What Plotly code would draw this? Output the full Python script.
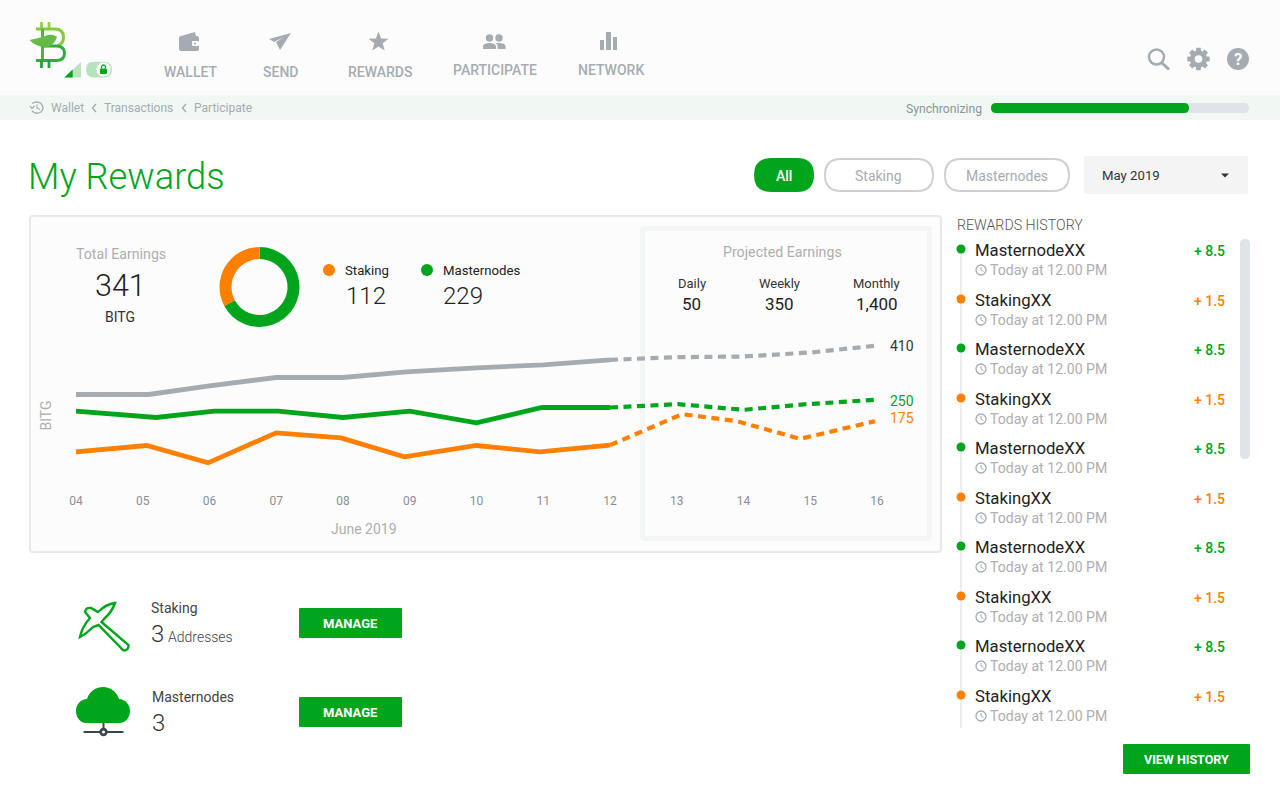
import math
import re

import plotly.graph_objects as go

W, H = 1280, 800
GREEN = "#00a51c"
ORANGE = "#ff7f00"
GRAY = "#a5acb1"
FONT = "Roboto"

# line chart values
gray_days = [4, 5.09, 6, 7, 8, 8.95, 10, 11, 12]
gray_vals = [260, 260, 286, 311, 311, 328, 340, 349, 364]
gray_proj_days = [12, 13, 14, 15, 15.97]
gray_proj_vals = [364, 372, 374, 386, 406]

green_days = [4, 5.2, 6.07, 7.03, 8, 9, 10, 10.98, 12]
green_vals = [210, 191, 210, 210, 191, 210, 175, 221, 221]
green_proj_days = [12, 13.02, 14, 14.95, 15.97]
green_proj_vals = [221, 231, 214, 231, 244]

orange_days = [4, 5.06, 5.98, 7, 7.97, 8.92, 10, 10.95, 12]
orange_vals = [88, 107, 55, 145, 130, 73, 107, 88, 108]
orange_proj_days = [12, 13.08, 13.9, 14.85, 15.97]
orange_proj_vals = [108, 201, 180, 127, 180]

tick_days = [4, 5, 6, 7, 8, 9, 10, 11, 12, 13, 14, 15, 16]
tick_labels = ["04", "05", "06", "07", "08", "09", "10", "11", "12", "13", "14", "15", "16"]

donut_labels = ["Masternodes", "Staking"]
donut_vals = [229, 112]

history_names = ["MasternodeXX", "StakingXX"] * 5
history_amounts = ["+ 8.5", "+ 1.5"] * 5
history_colors = [GREEN, ORANGE] * 5
history_y = [250, 300, 349, 399, 448, 498, 547, 597, 646, 696]

nav_labels = ["WALLET", "SEND", "REWARDS", "PARTICIPATE", "NETWORK"]
nav_x = [190, 280, 379.5, 494.5, 610.5]
nav_y = [72, 72, 72, 70, 70]

shapes = []
notes = []


def px(x):
    return x / W


def py(y):
    return 1 - y / H


# pixel path -> paper path
def pth(d):
    toks = re.findall(r"[MLQCZ]|-?\d+\.?\d*", d)
    out, i = [], 0
    for t in toks:
        if t in "MLQCZ":
            out.append(t)
        else:
            out.append(f"{px(float(t)):.5f}" if i % 2 == 0 else f"{py(float(t)):.5f}")
            i += 1
    return " ".join(out)


def path(d, fill=None, line=None, lw=0, layer="below"):
    shapes.append(dict(type="path", xref="paper", yref="paper", path=pth(d), layer=layer,
                       fillcolor=fill or "rgba(0,0,0,0)",
                       line=dict(color=line or "rgba(0,0,0,0)", width=lw)))


def rrect(x0, y0, x1, y1, r=0, fill=None, line=None, lw=0, layer="below"):
    d = (f"M {x0 + r} {y0} L {x1 - r} {y0} Q {x1} {y0} {x1} {y0 + r} L {x1} {y1 - r} "
         f"Q {x1} {y1} {x1 - r} {y1} L {x0 + r} {y1} Q {x0} {y1} {x0} {y1 - r} "
         f"L {x0} {y0 + r} Q {x0} {y0} {x0 + r} {y0} Z")
    path(d, fill, line, lw, layer)


def circle(cx, cy, r, fill=None, line=None, lw=0, layer="below"):
    shapes.append(dict(type="circle", xref="paper", yref="paper", layer=layer,
                       x0=px(cx - r), x1=px(cx + r), y0=py(cy + r), y1=py(cy - r),
                       fillcolor=fill or "rgba(0,0,0,0)",
                       line=dict(color=line or "rgba(0,0,0,0)", width=lw)))


def txt(x, y, s, size=14, color="#333333", anchor="left", weight=400, angle=0):
    notes.append(dict(xref="paper", yref="paper", x=px(x), y=py(y), text=s, showarrow=False,
                      xanchor=anchor, yanchor="middle", textangle=angle, borderpad=0,
                      font=dict(family=FONT, size=size, color=color, weight=weight)))


# page bands
rrect(0, 0, 1280, 95, fill="#fcfcfc")
rrect(0, 95, 1280, 120, fill="#f1f7f2")

# logo
path("M 41.5 22 L 41.5 29 M 49 22 L 49 29", line="#9ccf3f", lw=2.8)
path("M 36 29 L 55 29 Q 63.5 29 63.5 37 Q 63.5 44 57 46", line="#86c83f", lw=3)
path("M 42.5 29 L 42.5 60", line="#4cb345", lw=3)
path("M 42.5 46 L 56 46 Q 64.5 46 64.5 53 Q 64.5 60.5 56 60.5 L 36 60.5", line="#2fae3f", lw=3)
path("M 41.5 60 L 41.5 68 M 49 60 L 49 68", line="#19a83b", lw=2.8)
path("M 29.5 40 Q 40 38 45 36 Q 52 33 57 37 Q 54 46 46 47.5 Q 36 47 29.5 40 Z", fill="#66bb46")
path("M 64.3 77.5 L 81 61.7 L 81 77.5 Z", fill="#b9e4bd")
path("M 64.3 77.5 L 72.7 69.5 L 72.7 77.5 Z", fill=GREEN)
rrect(86, 61.7, 112, 77.5, 7.9, fill="#b5e3bb")
circle(103.5, 69.5, 7.5, fill="#ffffff", line="#b5e3bb", lw=0.8)
rrect(100, 68.5, 107, 74, 1, fill=GREEN)
path("M 101.5 68.5 L 101.5 66.5 Q 103.5 63.5 105.5 66.5 L 105.5 68.5", line=GREEN, lw=1.3)

# nav icons
rrect(179, 36, 199, 51, 2, fill=GRAY)
path("M 181 36 L 195 32 L 196 36 Z", fill=GRAY)
rrect(192, 41, 199, 46, 1, fill="#fcfcfc")
circle(195, 43.5, 1, fill=GRAY)
path("M 269 39 L 291 33 L 280 50 L 276 42 L 284 37 L 274 42 Z", fill=GRAY)
star = []
for i in range(10):
    r = 10.5 if i % 2 == 0 else 4.4
    a = -math.pi / 2 + i * math.pi / 5
    star.append(f"{378.5 + r * math.cos(a):.2f} {42 + r * math.sin(a):.2f}")
path("M " + " L ".join(star) + " Z", fill=GRAY)
circle(489.5, 38, 3.7, fill=GRAY)
circle(499, 38, 3.7, fill=GRAY)
path("M 483 49 L 483 46 Q 484 43 489.5 43 Q 495 43 496 46 L 496 49 Z", fill=GRAY)
path("M 497.5 49 L 497.5 45 L 495.5 43.3 Q 497 43 499 43 Q 505 43 505.5 46 L 505.5 49 Z", fill=GRAY)
rrect(600, 40, 604, 50, fill=GRAY)
rrect(606, 32, 611, 50, fill=GRAY)
rrect(613, 37, 617, 50, fill=GRAY)
for lab, x, y in zip(nav_labels, nav_x, nav_y):
    txt(x, y, lab, 14, GRAY, "center", 500)

# right icons
circle(1156.5, 57, 7.5, line=GRAY, lw=2.5)
path("M 1162 63 L 1169 69.5", line=GRAY, lw=3)
gear = []
for i in range(8):
    a = i * math.pi / 4
    for da, r in [(-0.3, 8.6), (-0.2, 11.4), (0.2, 11.4), (0.3, 8.6)]:
        gear.append(f"{1198.5 + r * math.cos(a + da):.2f} {59 + r * math.sin(a + da):.2f}")
path("M " + " L ".join(gear) + " Z", fill=GRAY)
circle(1198.5, 59, 3.8, fill="#fcfcfc")
circle(1238, 59, 11, fill=GRAY)
txt(1238, 59.5, "?", 17, "#fcfcfc", "center", 700)

# breadcrumb and sync bar
path("M 32 103.5 Q 37 100.5 41 103.5 Q 45 108 41 112 Q 36 115 32 111", line=GRAY, lw=1.3)
path("M 30 106 L 32 108.5 L 34.5 106", line=GRAY, lw=1.2)
path("M 37 104.5 L 37 108 L 40 109.5", line=GRAY, lw=1.1)
txt(50, 107.5, "Wallet", 12, GRAY)
path("M 96 104 L 92.5 108 L 96 112", line=GRAY, lw=1.4)
txt(103, 107.5, "Transactions", 12, GRAY)
path("M 186 104 L 182.5 108 L 186 112", line=GRAY, lw=1.4)
txt(193, 107.5, "Participate", 12, GRAY)
txt(983, 108.5, "Synchronizing", 12.2, "#8d9499", "right")
rrect(991, 103, 1249, 113, 5, fill="#e0e4e8")
rrect(991, 103, 1189, 113, 5, fill=GREEN)

# title row
txt(26.5, 177, "My Rewards", 36.3, GREEN, weight=300)
rrect(754, 158, 814, 192, 17, fill=GREEN)
txt(783.5, 176, "All", 14, "#ffffff", "center", 500)
rrect(825, 159, 933, 191, 16, fill="#ffffff", line="#cfcfcf", lw=2)
txt(878.5, 176, "Staking", 14, GRAY, "center")
rrect(945, 159, 1069, 191, 16, fill="#ffffff", line="#cfcfcf", lw=2)
txt(1006.5, 176, "Masternodes", 14, GRAY, "center")
rrect(1084, 156, 1248, 194, 2, fill="#f4f4f4")
txt(1100.5, 175.5, "May 2019", 13.2, "#333333")
path("M 1221 173.5 L 1229 173.5 L 1225 177.5 Z", fill="#333333")

# chart card
rrect(30, 216, 941, 552, 3, fill="#fcfcfc", line="#e8e8e8", lw=2)
rrect(642.5, 228.5, 929.5, 538.5, 2, fill="#fcfcfc", line="#f4f6f6", lw=5)
txt(120.5, 254, "Total Earnings", 14.2, "#aeaeae", "center")
txt(120, 285.5, "341", 30.5, "#222222", "center", 300)
txt(120, 317, "BITG", 14, "#333333", "center")
circle(329, 270, 6, fill=ORANGE)
txt(343.5, 270, "Staking", 13.2, "#222222")
circle(427, 270, 6, fill=GREEN)
txt(441.5, 270, "Masternodes", 13.2, "#222222")
txt(344.5, 296, "112", 24, "#222222", weight=300)
txt(441.5, 296, "229", 24, "#222222", weight=300)
txt(782.5, 252, "Projected Earnings", 14.2, "#aeaeae", "center")
for x, a, b in zip([691.5, 779.5, 876.5], ["Daily", "Weekly", "Monthly"], ["50", "350", "1,400"]):
    txt(x, 283.5, a, 13, "#333333", "center")
    txt(x, 304, b, 17, "#222222", "center")
txt(889, 346, "410", 14, "#333333")
txt(889, 401, "250", 14, GREEN)
txt(889, 418, "175", 14, ORANGE)
txt(45, 415.5, "BITG", 14, "#b0b0b0", "center", angle=-90)
txt(363.5, 529, "June 2019", 14, "#aeaeae", "center")

# staking row
path("M 80 637 Q 82 627 90 618 L 85 612 Q 86 607 91 608 L 98 612 Q 106 604 115 603 "
     "Q 112 612 104 619 L 101.5 622 L 128.5 645 Q 129 649 125 650.5 Q 123 651 121 648 "
     "L 98.5 625 L 93 627 Q 86 634 80 637 Z", line=GREEN, lw=2.4)
txt(149.5, 608, "Staking", 14, "#444444")
txt(149.5, 634, "3", 24, "#333333", weight=300)
txt(167, 637, "Addresses", 14, "#444444", weight=300)
rrect(299, 608, 402, 638, 1, fill=GREEN)
txt(350.5, 623, "MANAGE", 13, "#ffffff", "center", 700)

# masternode row
path("M 86 723 C 80 723 76 717 76 711 C 76 704 81 699 87 699 C 89 692 95 687 103 687 "
     "C 111 687 117 692 119 699 C 125 699 130 704 130 711 C 130 718 125 723 120 723 Z", fill=GREEN)
path("M 103.5 723 L 103.5 732 M 83.5 732 L 123.5 732", line="#3b4650", lw=2)
circle(103.5, 732, 4.2, fill="#3b4650")
circle(103.5, 732, 1.5, fill="#ffffff")
txt(150.5, 697, "Masternodes", 14, "#444444")
txt(150.5, 723, "3", 24, "#333333", weight=300)
rrect(299, 697, 402, 727, 1, fill=GREEN)
txt(350.5, 712, "MANAGE", 13, "#ffffff", "center", 700)

# history list
txt(956, 225, "REWARDS HISTORY", 14.2, "#555555", weight=300)
path("M 961 250 L 961 728", line="#e6e8ea", lw=1.5)
rrect(1240, 239, 1250, 459, 5, fill="#e0e4e8")
for name, amount, col, y in zip(history_names, history_amounts, history_colors, history_y):
    circle(961, y - 1, 4.5, fill=col)
    txt(973.5, y, name, 16.7, "#222222")
    txt(1225.5, y + 1, amount, 14, col, "right", 500)
    circle(981, y + 20, 5, line="#a5acb1", lw=1.3)
    path(f"M 981 {y + 17} L 981 {y + 20} L 983.5 {y + 21.5}", line="#a5acb1", lw=1)
    txt(988.5, y + 20, "Today at 12.00 PM", 14.1, "#aeaeae")
rrect(1123, 744, 1250, 774, 1, fill=GREEN)
txt(1186.5, 759.5, "VIEW HISTORY", 12.5, "#ffffff", "center", 700)

fig = go.Figure()
for days, vals, color in [(gray_days, gray_vals, GRAY), (green_days, green_vals, GREEN),
                          (orange_days, orange_vals, ORANGE)]:
    fig.add_trace(go.Scatter(x=days, y=vals, mode="lines", line=dict(color=color, width=4.8),
                             showlegend=False, hoverinfo="skip"))
for days, vals, color in [(gray_proj_days, gray_proj_vals, GRAY), (green_proj_days, green_proj_vals, GREEN),
                          (orange_proj_days, orange_proj_vals, ORANGE)]:
    fig.add_trace(go.Scatter(x=days, y=vals, mode="lines",
                             line=dict(color=color, width=4.2, dash="8px,5.5px"),
                             showlegend=False, hoverinfo="skip"))

fig.add_trace(go.Pie(labels=donut_labels, values=donut_vals, hole=0.7, sort=False, direction="clockwise",
                     rotation=0, textinfo="none", showlegend=False, hoverinfo="skip",
                     marker=dict(colors=[GREEN, ORANGE], line=dict(width=0)),
                     domain=dict(x=[px(219.5), px(299.5)], y=[py(327), py(247)])))

fig.update_layout(
    width=W, height=H, margin=dict(l=0, r=0, t=0, b=0),
    paper_bgcolor="#ffffff", plot_bgcolor="rgba(0,0,0,0)",
    font=dict(family=FONT), shapes=shapes, annotations=notes,
    xaxis=dict(domain=[px(40), px(930)], range=[3.461, 16.794], tickvals=tick_days, ticktext=tick_labels,
               showgrid=False, zeroline=False, showline=False, ticks="outside", ticklen=11,
               tickcolor="rgba(0,0,0,0)", tickfont=dict(family=FONT, size=12, color="#8a8f92")),
    yaxis=dict(domain=[py(479), py(329)], range=[6.5, 456.5], visible=False),
)

fig.write_html("out.html", config=dict(displayModeBar=False),
               post_script="document.body.style.margin='0';document.body.style.overflow='hidden';")
